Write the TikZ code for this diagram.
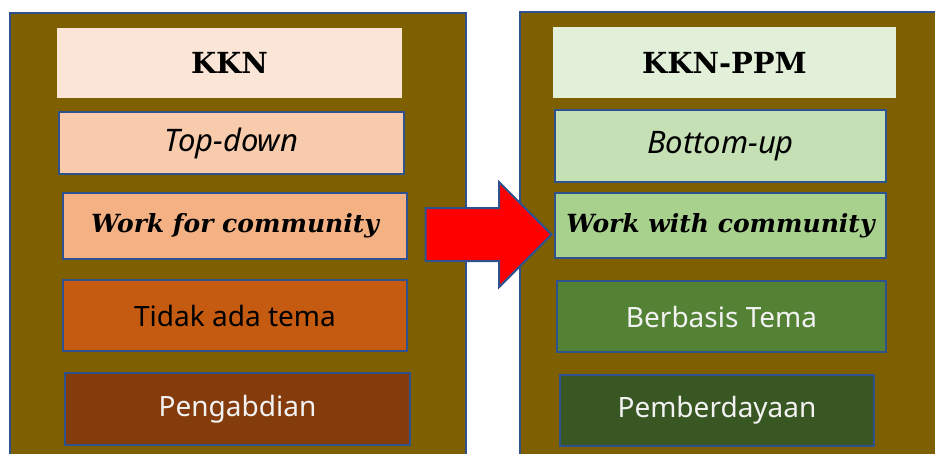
\documentclass[tikz,border=0pt]{standalone}
\usepackage{fontspec}
\usepackage{tikz}
\usetikzlibrary{shapes.arrows}

\newfontfamily\headfont{DejaVu Serif}
\newfontfamily\boxfont{Noto Sans}

\definecolor{panelolive}{HTML}{7F6000}
\definecolor{edgeblue}{HTML}{2F528F}
\definecolor{kknhead}{HTML}{FBE5D6}
\definecolor{kknone}{HTML}{F8CBAD}
\definecolor{kkntwo}{HTML}{F4B183}
\definecolor{kknthree}{HTML}{C55A11}
\definecolor{kknfour}{HTML}{843C0C}
\definecolor{ppmhead}{HTML}{E2F0D9}
\definecolor{ppmone}{HTML}{C5E0B4}
\definecolor{ppmtwo}{HTML}{A9D18E}
\definecolor{ppmthree}{HTML}{548235}
\definecolor{ppmfour}{HTML}{385723}
\definecolor{lighttext}{HTML}{F2F2F2}

\begin{document}
\begin{tikzpicture}[x=1pt, y=-1pt,
    panel/.style={draw=edgeblue, line width=2pt, fill=panelolive, inner sep=0pt},
    headbox/.style={fill=#1, inner sep=0pt,
        font=\headfont\bfseries\fontsize{29}{29}\selectfont},
    itembox/.style={draw=edgeblue, line width=2pt, fill=#1, inner sep=0pt,
        font=\boxfont\fontsize{28}{28}\selectfont},
    turn/.style={font=\boxfont\itshape\fontsize{31}{31}\selectfont},
    slogan/.style={font=\headfont\bfseries\itshape\fontsize{25}{25}\selectfont},
    bigarrow/.style={single arrow, draw=edgeblue, line width=2pt, fill=red,
        inner xsep=0pt, inner ysep=25.5pt, single arrow head extend=26pt,
        minimum height=126pt, minimum width=103pt, anchor=tip}]
    \useasboundingbox (0,0) rectangle (935,453);
    \clip (0,0) rectangle (935,453);

    % panels
    \node[panel, minimum width=456pt, minimum height=462pt] (leftpanel) at (238,244) {};
    \node[panel, minimum width=440pt, minimum height=463pt] (rightpanel) at (740,243.5) {};

    % KKN
    \node[headbox=kknhead, minimum width=345pt, minimum height=70pt] (kkn) at (229.5,63) {KKN};
    \node[itembox=kknone, turn, minimum width=345pt, minimum height=62pt] (topdown) at (231.5,143) {Top-down};
    \node[itembox=kkntwo, slogan, minimum width=344pt, minimum height=66pt] (workfor) at (235,226) {Work for community};
    \node[itembox=kknthree, minimum width=344pt, minimum height=71pt] (tema) at (235,315.5) {Tidak ada tema};
    \node[itembox=kknfour, text=lighttext, minimum width=345pt, minimum height=72pt] (abdi) at (237.5,409) {Pengabdian};

    % KKN-PPM
    \node[headbox=ppmhead, minimum width=343pt, minimum height=71pt] (kknppm) at (724.5,62.5) {KKN-PPM};
    \node[itembox=ppmone, turn, minimum width=331pt, minimum height=72pt] (bottomup) at (720.5,146) {Bottom-up};
    \node[itembox=ppmtwo, slogan, minimum width=331pt, minimum height=65pt] (workwith) at (720.5,225.5) {Work with community};
    \node[itembox=ppmthree, text=lighttext, minimum width=329pt, minimum height=71pt] (basis) at (721.5,316.5) {Berbasis Tema};
    \node[itembox=ppmfour, text=lighttext, minimum width=314pt, minimum height=71pt] (daya) at (717,410.5) {Pemberdayaan};

    % arrow
    \node[bigarrow] (shift) at ([xshift=-1pt, yshift=-9pt]workwith.west) {};
\end{tikzpicture}
\end{document}
